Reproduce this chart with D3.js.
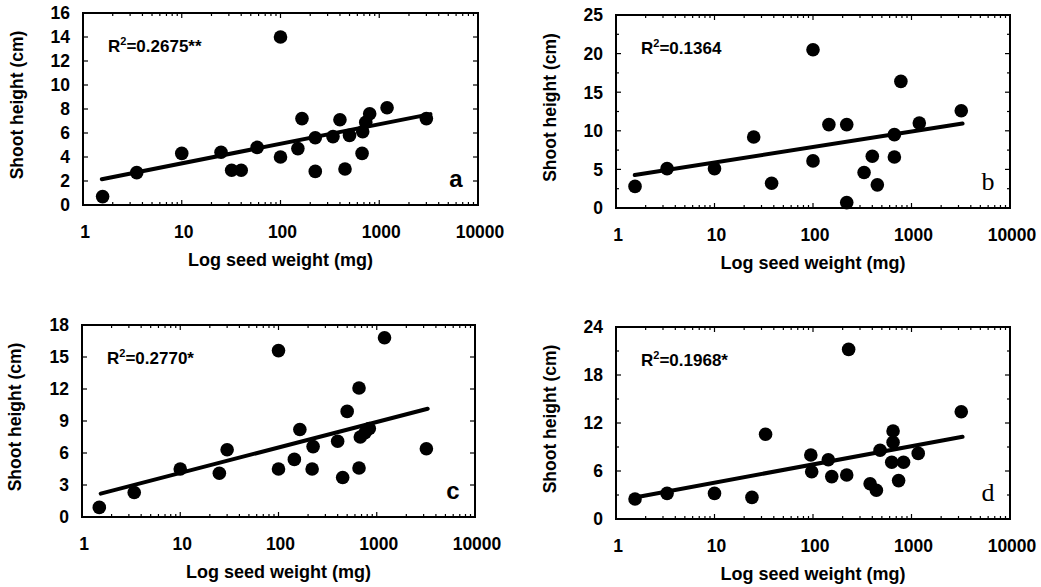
<!DOCTYPE html>
<html>
<head>
<meta charset="utf-8">
<script src="https://cdn.jsdelivr.net/npm/d3@7"></script>
<style>
  body { margin: 0; background: #fff; }
  text { font-family: "Liberation Sans", Arial, sans-serif; font-weight: bold; fill: #000; }
</style>
</head>
<body>
<svg id="chart" width="1041" height="587"></svg>
<script>
// seed weight (mg) and shoot height (cm) for each panel
const seedA = [1.58, 3.5, 10, 25, 32, 40, 58, 100, 100, 150, 165, 225, 225, 340, 400, 450, 500, 670, 680, 730, 800, 1200, 3000];
const heightA = [0.7, 2.7, 4.3, 4.4, 2.9, 2.9, 4.8, 14.0, 4.0, 4.7, 7.2, 5.6, 2.8, 5.7, 7.1, 3.0, 5.8, 4.3, 6.1, 6.9, 7.6, 8.1, 7.2];

const seedB = [1.56, 3.3, 10, 25, 38, 100, 100, 145, 220, 220, 330, 400, 450, 670, 670, 780, 1200, 3200];
const heightB = [2.8, 5.1, 5.1, 9.2, 3.2, 20.5, 6.1, 10.8, 10.8, 0.7, 4.6, 6.7, 3.0, 9.5, 6.6, 16.4, 11.0, 12.6];

const seedC = [1.5, 3.4, 10, 25, 30, 100, 100, 145, 165, 220, 225, 400, 450, 500, 660, 660, 680, 760, 840, 1200, 3200];
const heightC = [0.9, 2.3, 4.5, 4.1, 6.3, 15.6, 4.5, 5.4, 8.2, 4.5, 6.6, 7.1, 3.7, 9.9, 12.1, 4.6, 7.5, 7.9, 8.3, 16.8, 6.4];

const seedD = [1.56, 3.3, 10, 24, 33, 95, 97, 143, 155, 220, 230, 380, 440, 480, 650, 650, 630, 740, 830, 1170, 3200];
const heightD = [2.5, 3.2, 3.2, 2.7, 10.6, 8.0, 5.9, 7.4, 5.3, 5.5, 21.2, 4.4, 3.6, 8.6, 11.0, 9.6, 7.1, 4.8, 7.1, 8.2, 13.4];

// fitted line: height = intercept + slope * log10(seed)
const fitA = [1.84, 1.63];
const fitB = [3.88, 2.01];
const fitC = [1.74, 2.39];
const fitD = [2.26, 2.28];
const fitRange = [1.55, 3300];

const r2Labels = ["=0.2675**", "=0.1364", "=0.2770*", "=0.1968*"];
const panelLetters = ["a", "b", "c", "d"];

const yTicksA = [0, 2, 4, 6, 8, 10, 12, 14, 16];
const yTicksB = [0, 5, 10, 15, 20, 25];
const yTicksC = [0, 3, 6, 9, 12, 15, 18];
const yTicksD = [0, 6, 12, 18, 24];
const xTicks = [1, 10, 100, 1000, 10000];

const svg = d3.select("#chart");

function drawPanel(p) {
  const g = svg.append("g");
  const x = d3.scaleLog().domain([1, 10000]).range([p.left, p.right]);
  const y = d3.scaleLinear().domain([0, p.yTicks[p.yTicks.length - 1]]).range([p.bottom, p.top]);

  // frame
  g.append("rect")
    .attr("x", p.left).attr("y", p.top)
    .attr("width", p.right - p.left).attr("height", p.bottom - p.top)
    .attr("fill", "none").attr("stroke", "#000").attr("stroke-width", 2);

  // log minor ticks inside, bottom and top
  const minor = [];
  for (let d = 1; d < 10000; d *= 10) {
    for (let k = 1; k < 10; k++) minor.push(d * k);
  }
  minor.push(10000);
  minor.forEach(v => {
    const len = (Math.log10(v) % 1 === 0) ? 5 : 3;
    g.append("line").attr("x1", x(v)).attr("x2", x(v))
      .attr("y1", p.bottom).attr("y2", p.bottom - len)
      .attr("stroke", "#000").attr("stroke-width", 1.2);
    g.append("line").attr("x1", x(v)).attr("x2", x(v))
      .attr("y1", p.top).attr("y2", p.top + len)
      .attr("stroke", "#000").attr("stroke-width", 1.2);
  });

  // y ticks inside, left and right
  const yAll = p.yMinor ? d3.range(0, p.yTicks[p.yTicks.length - 1] + 0.001, p.yMinor) : p.yTicks;
  yAll.forEach(v => {
    const len = p.yTicks.includes(v) ? 5 : 3;
    g.append("line").attr("x1", p.left).attr("x2", p.left + len)
      .attr("y1", y(v)).attr("y2", y(v)).attr("stroke", "#000").attr("stroke-width", 1.2);
    g.append("line").attr("x1", p.right).attr("x2", p.right - len)
      .attr("y1", y(v)).attr("y2", y(v)).attr("stroke", "#000").attr("stroke-width", 1.2);
  });

  // tick labels
  g.selectAll(".ylab").data(p.yTicks).enter().append("text")
    .attr("x", p.left - 13).attr("y", d => y(d)).attr("dy", "0.36em")
    .attr("text-anchor", "end").style("font-size", "17.5px")
    .text(d => d);
  g.selectAll(".xlab").data(xTicks).enter().append("text")
    .attr("x", d => x(d) + 2).attr("y", p.bottom + 33)
    .attr("text-anchor", "middle").style("font-size", "17.5px")
    .text(d => d);

  // axis titles
  g.append("text")
    .attr("x", (p.left + p.right) / 2).attr("y", p.bottom + 61)
    .attr("text-anchor", "middle").style("font-size", "18px")
    .text("Log seed weight (mg)");
  g.append("text")
    .attr("transform", "translate(" + p.ylabX + "," + ((p.top + p.bottom) / 2 - 4) + ") rotate(-90)")
    .attr("text-anchor", "middle").attr("dy", "0.35em").style("font-size", "17.5px")
    .text("Shoot height (cm)");

  // regression line
  const fitPts = fitRange.map(s => [x(s), y(p.fit[0] + p.fit[1] * Math.log10(s))]);
  g.append("path").attr("d", d3.line()(fitPts))
    .attr("stroke", "#000").attr("stroke-width", 4).attr("fill", "none")
    .attr("stroke-linecap", "round");

  // points
  g.selectAll("circle").data(p.seeds).enter().append("circle")
    .attr("cx", d => x(d)).attr("cy", (d, i) => y(p.heights[i]))
    .attr("r", 6.8).attr("fill", "#000");

  // R2 label
  const t = g.append("text").attr("x", p.left + 25).attr("y", p.top + 39).style("font-size", "17px");
  t.append("tspan").text("R");
  t.append("tspan").attr("dy", -7).style("font-size", "11px").text("2");
  t.append("tspan").attr("dy", 7).text(p.r2);

  // panel letter
  g.append("text")
    .attr("x", p.right - 22).attr("y", p.bottom - 18)
    .attr("text-anchor", "middle")
    .style("font-family", p.serif ? "'Liberation Serif', serif" : "'Liberation Sans', sans-serif")
    .style("font-weight", p.serif ? "normal" : "bold")
    .style("font-size", p.serif ? "26px" : "24px")
    .text(p.letter);
}

drawPanel({ left: 83, right: 478, top: 13, bottom: 205, ylabX: 17, yTicks: yTicksA,
  seeds: seedA, heights: heightA, fit: fitA, r2: r2Labels[0], letter: panelLetters[0], serif: false });
drawPanel({ left: 616, right: 1010, top: 15, bottom: 208, ylabX: 550, yTicks: yTicksB, yMinor: 2.5,
  seeds: seedB, heights: heightB, fit: fitB, r2: r2Labels[1], letter: panelLetters[1], serif: true });
drawPanel({ left: 82, right: 475, top: 325, bottom: 517, ylabX: 15, yTicks: yTicksC,
  seeds: seedC, heights: heightC, fit: fitC, r2: r2Labels[2], letter: panelLetters[2], serif: false });
drawPanel({ left: 616, right: 1010, top: 327, bottom: 519, ylabX: 550, yTicks: yTicksD, yMinor: 3,
  seeds: seedD, heights: heightD, fit: fitD, r2: r2Labels[3], letter: panelLetters[3], serif: true });
</script>
</body>
</html>
